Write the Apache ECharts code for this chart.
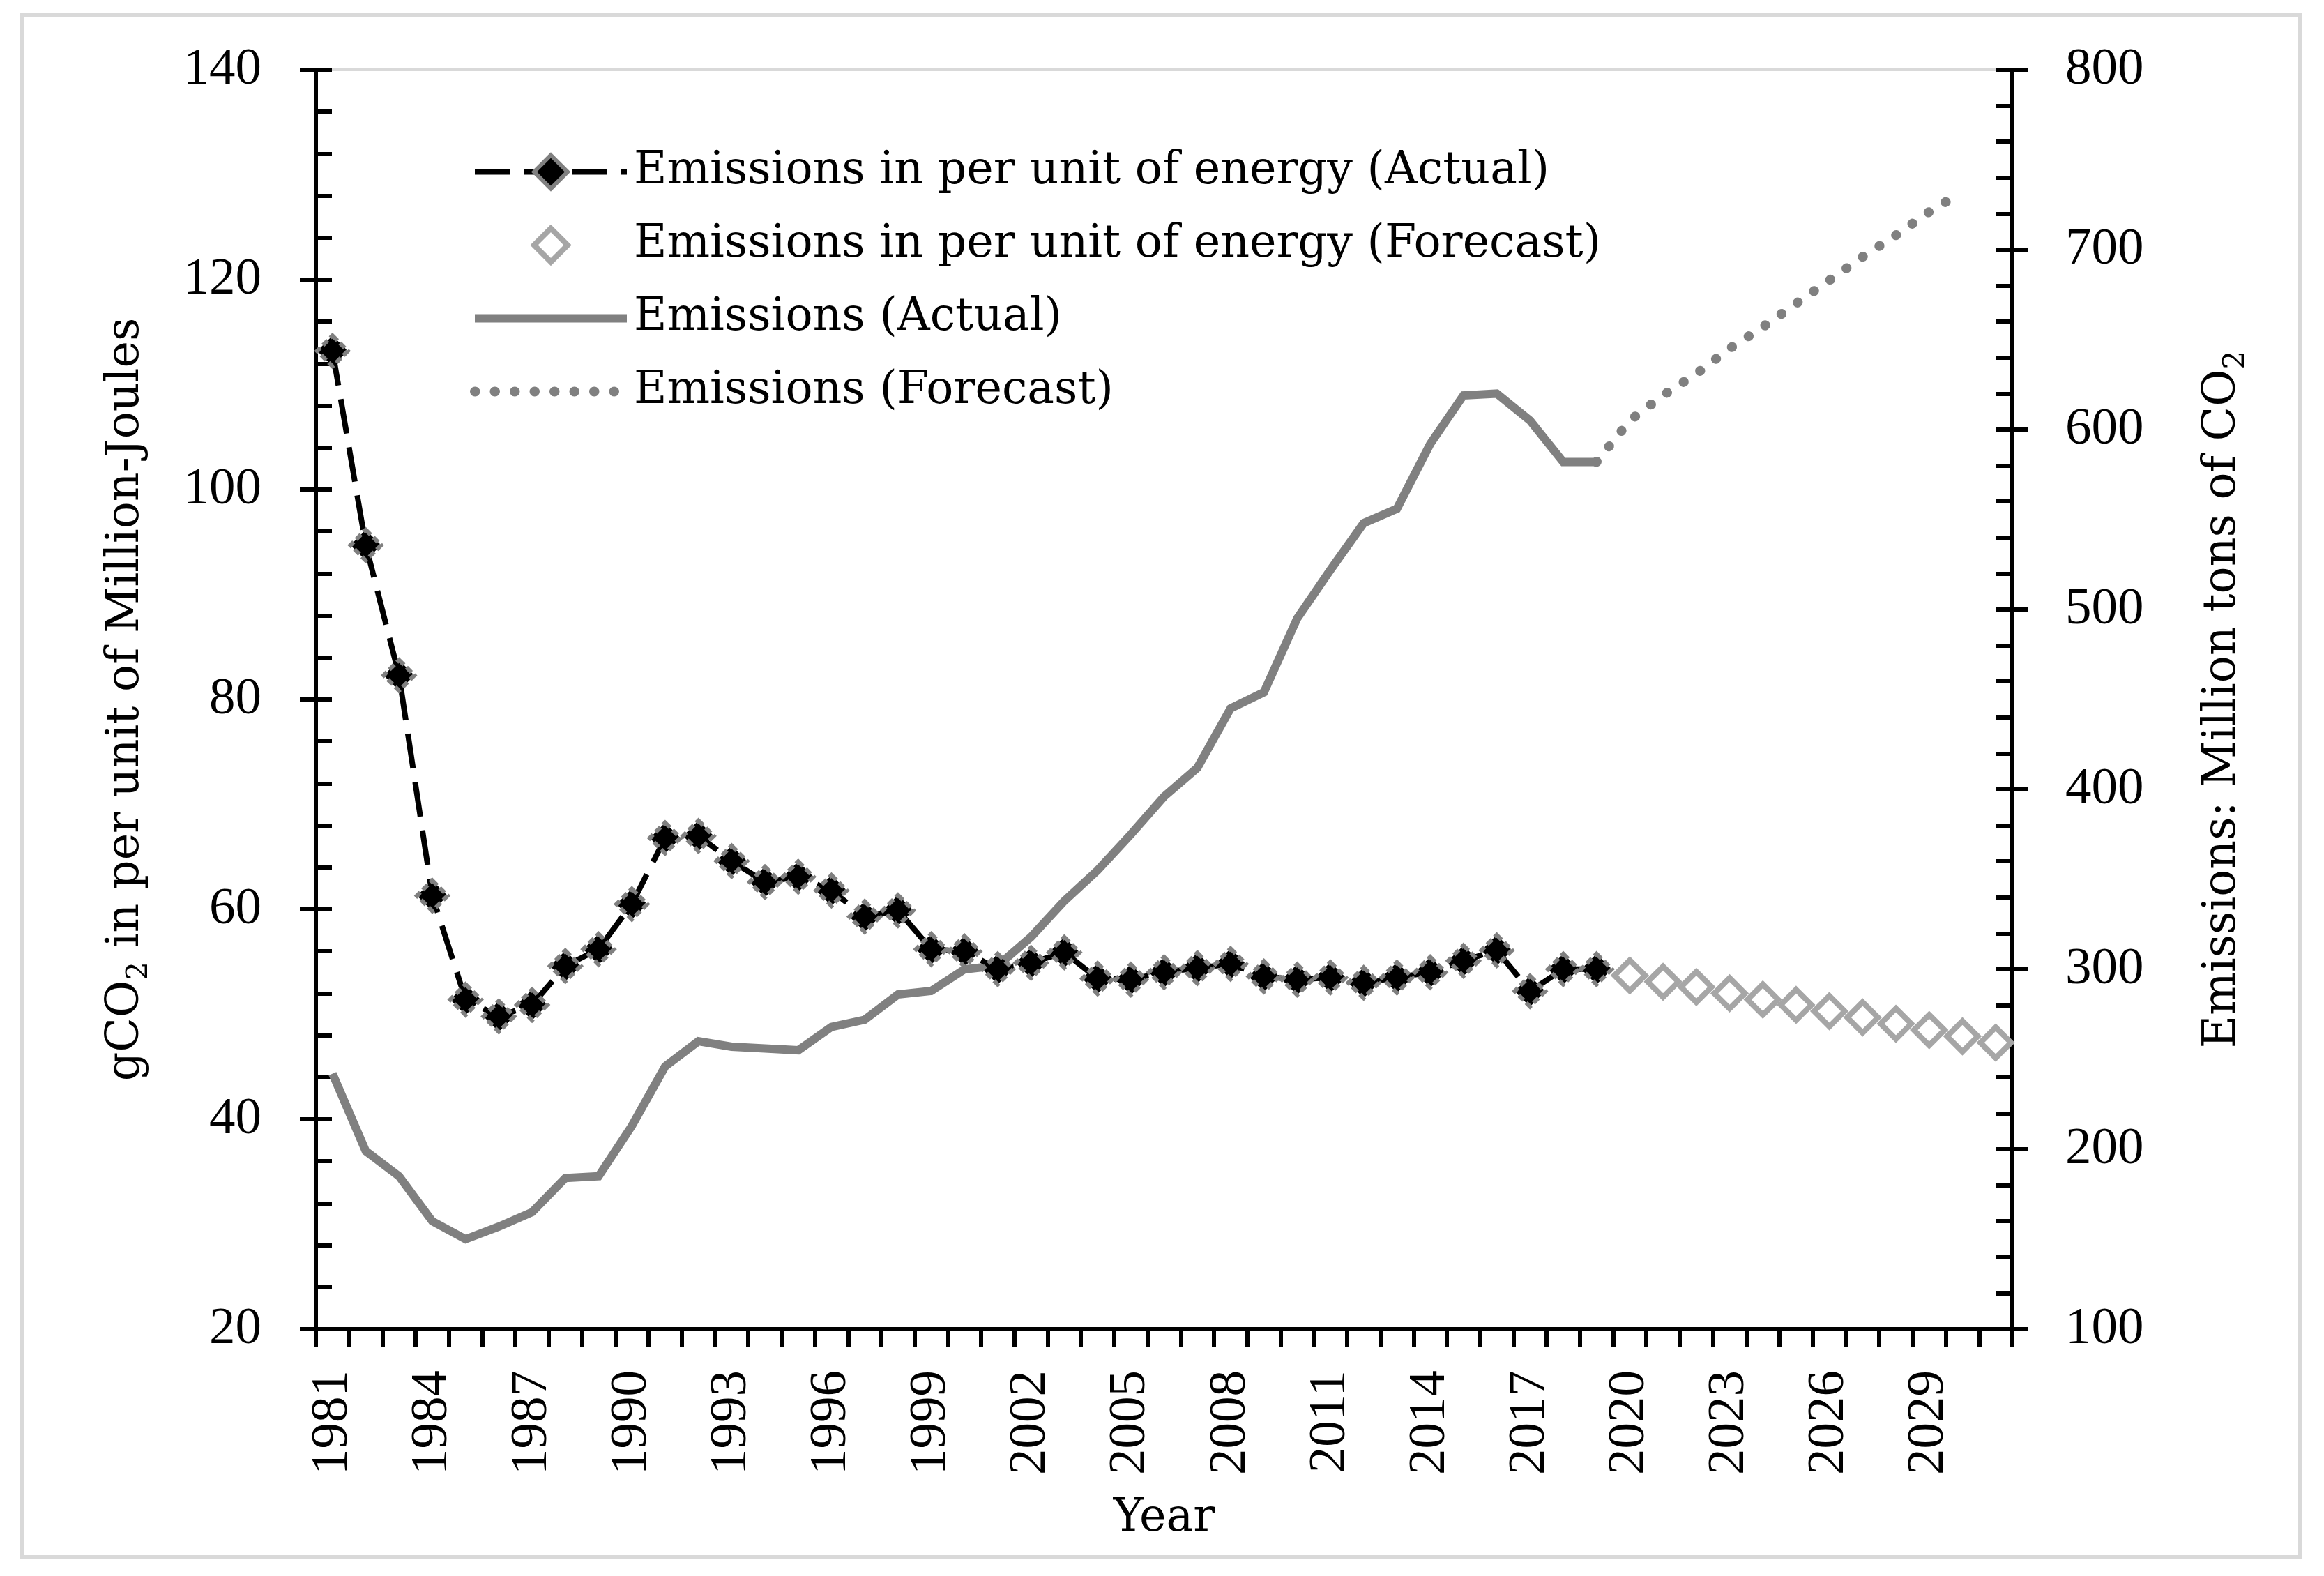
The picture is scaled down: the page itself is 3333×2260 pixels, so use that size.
<!DOCTYPE html>
<html>
<head>
<meta charset="utf-8">
<script src="https://cdn.jsdelivr.net/npm/echarts@6/dist/echarts.min.js"></script>
<style>
html,body{margin:0;padding:0;background:#ffffff;}
#c{width:3333px;height:2260px;}
</style>
</head>
<body>
<div id="c"></div>
<script>
// ---------- data ----------
const years = ['1981','1982','1983','1984','1985','1986','1987','1988','1989','1990',
  '1991','1992','1993','1994','1995','1996','1997','1998','1999','2000',
  '2001','2002','2003','2004','2005','2006','2007','2008','2009','2010',
  '2011','2012','2013','2014','2015','2016','2017','2018','2019','2020',
  '2021','2022','2023','2024','2025','2026','2027','2028','2029','2030','2031'];

// gCO2 per MJ, actual 1981-2019
const intensityActual = [113.2, 94.7, 82.3, 61.3, 51.4, 49.8, 50.9, 54.6, 56.2, 60.5,
  66.8, 67.0, 64.6, 62.6, 63.1, 61.8, 59.3, 59.9, 56.2, 56.0,
  54.3, 54.9, 55.9, 53.4, 53.3, 54.0, 54.4, 54.8, 53.6, 53.3,
  53.5, 53.0, 53.5, 54.0, 55.1, 56.1, 52.2, 54.3, 54.3];
// gCO2 per MJ, forecast 2020-2031
const intensityForecast = [53.7, 53.1, 52.6, 52.0, 51.4, 50.9, 50.3, 49.7, 49.1, 48.5, 47.9, 47.3];

// Million tons CO2, actual 1981-2019
const emissionsActual = [242, 199, 185, 160, 150, 157, 165, 184, 185, 213,
  246, 260, 257, 256, 255, 268, 272, 286, 288, 300,
  302, 318, 338, 355, 375, 396, 412, 445, 454, 495,
  522, 548, 556, 592, 619, 620, 605, 582, 582];
// Million tons CO2, forecast 2020-2030
const emissionsForecast = [605, 619, 631, 645, 657, 670, 683, 696, 708, 721, 732];

const seriesNames = [
  'Emissions in per unit of energy (Actual)',
  'Emissions in per unit of energy (Forecast)',
  'Emissions (Actual)',
  'Emissions (Forecast)'
];

// ---------- build aligned series ----------
const N = years.length;
const nulls = n => Array.from({length: n}, () => null);
const intActData = intensityActual.concat(nulls(N - intensityActual.length));
const intFcData = nulls(intensityActual.length).concat(intensityForecast);
const emActData = emissionsActual.concat(nulls(N - emissionsActual.length));
const emFcBase = nulls(emissionsActual.length - 1)
  .concat([emissionsActual[emissionsActual.length - 1]])
  .concat(emissionsForecast);
const emFcData = emFcBase.concat(nulls(N - emFcBase.length));

const SERIF = 'DejaVu Serif';
const NUMF = 'Liberation Serif';
const black = '#000000';

const subRich = {
  sub: { fontFamily: SERIF, fontSize: 42, lineHeight: 44, verticalAlign: 'bottom', color: black }
};

const chart = echarts.init(document.getElementById('c'), null, {renderer: 'canvas', width: 3333, height: 2260});

const option = {
  backgroundColor: '#ffffff',
  animation: false,
  graphic: [{
    type: 'rect', z: -10, silent: true,
    shape: {x: 31, y: 22, width: 3267, height: 2211},
    style: {fill: 'none', stroke: '#d9d9d9', lineWidth: 6}
  }],
  grid: {left: 453, right: 447, top: 100, bottom: 354, containLabel: false, outerBoundsMode: 'none'},
  legend: {
    show: true,
    orient: 'vertical',
    left: 669,
    top: 209,
    itemWidth: 218,
    itemHeight: 60,
    itemGap: 40,
    selectedMode: false,
    lineStyle: {width: 'inherit'},
    itemStyle: {borderWidth: 'inherit'},
    textStyle: {fontFamily: SERIF, fontSize: 65, color: black, lineHeight: 60, padding: [0, 0, 0, 5]},
    data: seriesNames
  },
  xAxis: [{
    type: 'category',
    data: years,
    position: 'bottom',
    boundaryGap: true,
    axisLine: {show: true, lineStyle: {color: black, width: 6}},
    axisTick: {show: true, interval: 0, length: 26, lineStyle: {color: black, width: 6}},
    axisLabel: {interval: 2, rotate: 90, fontFamily: NUMF, fontSize: 75, color: black, margin: 59},
    splitLine: {show: false},
    name: 'Year',
    nameLocation: 'middle',
    nameGap: 240,
    nameTextStyle: {fontFamily: SERIF, fontSize: 65, color: black}
  }, {
    type: 'category',
    data: years,
    position: 'top',
    boundaryGap: true,
    z: 0,
    axisLine: {show: true, lineStyle: {color: '#d9d9d9', width: 4}},
    axisTick: {show: false},
    axisLabel: {show: false},
    splitLine: {show: false}
  }],
  yAxis: [{
    type: 'value',
    position: 'left',
    min: 20, max: 140, interval: 20,
    name: 'gCO{sub|2} in per unit of Million-Joules',
    nameLocation: 'middle',
    nameRotate: 90,
    nameGap: 232,
    nameTextStyle: {fontFamily: SERIF, fontSize: 65, color: black, lineHeight: 80, rich: subRich},
    axisLine: {show: true, lineStyle: {color: black, width: 6}},
    axisTick: {show: true, inside: true, length: 23, lineStyle: {color: black, width: 6}},
    minorTick: {show: true, splitNumber: 5, length: 23, lineStyle: {color: black, width: 6}},
    axisLabel: {fontFamily: NUMF, fontSize: 75, color: black, margin: 78},
    splitLine: {show: false}
  }, {
    type: 'value',
    position: 'left',
    min: 20, max: 140, interval: 20,
    axisLine: {show: false},
    axisTick: {show: true, inside: false, length: 23, lineStyle: {color: black, width: 6}},
    axisLabel: {show: false},
    splitLine: {show: false}
  }, {
    type: 'value',
    position: 'right',
    min: 100, max: 800, interval: 100,
    name: 'Emissions: Million tons of CO{sub|2}',
    nameLocation: 'middle',
    nameRotate: 90,
    nameGap: 262,
    nameTextStyle: {fontFamily: SERIF, fontSize: 65, color: black, lineHeight: 80, rich: subRich},
    axisLine: {show: true, lineStyle: {color: black, width: 6}},
    axisTick: {show: true, inside: true, length: 23, lineStyle: {color: black, width: 6}},
    minorTick: {show: true, splitNumber: 5, length: 23, lineStyle: {color: black, width: 6}},
    axisLabel: {fontFamily: NUMF, fontSize: 75, color: black, margin: 76},
    splitLine: {show: false}
  }, {
    type: 'value',
    position: 'right',
    min: 100, max: 800, interval: 100,
    axisLine: {show: false},
    axisTick: {show: true, inside: false, length: 23, lineStyle: {color: black, width: 6}},
    axisLabel: {show: false},
    splitLine: {show: false}
  }],
  series: [{
    name: seriesNames[2],
    type: 'line',
    xAxisIndex: 0,
    yAxisIndex: 2,
    data: emActData,
    symbol: 'none',
    z: 2,
    lineStyle: {color: '#808080', width: 12, join: 'miter'},
    itemStyle: {color: 'rgba(128,128,128,0)', opacity: 0}
  }, {
    name: seriesNames[3],
    type: 'line',
    xAxisIndex: 0,
    yAxisIndex: 2,
    data: emFcData,
    symbol: 'none',
    z: 2,
    lineStyle: {color: '#808080', width: 14, type: [0.5, 28], cap: 'round'},
    itemStyle: {color: 'rgba(128,128,128,0)', opacity: 0}
  }, {
    name: seriesNames[0],
    type: 'line',
    xAxisIndex: 0,
    yAxisIndex: 0,
    data: intActData,
    symbol: 'diamond',
    symbolSize: 44,
    showSymbol: true,
    showAllSymbol: true,
    z: 3,
    lineStyle: {color: black, width: 8, type: [50, 20]},
    itemStyle: {color: black, borderColor: '#808080', borderWidth: 6, borderType: [10, 5]}
  }, {
    name: seriesNames[1],
    type: 'line',
    xAxisIndex: 0,
    yAxisIndex: 0,
    data: intFcData,
    symbol: 'diamond',
    symbolSize: 44,
    showSymbol: true,
    showAllSymbol: true,
    z: 3,
    lineStyle: {color: 'rgba(0,0,0,0)', width: 0},
    itemStyle: {color: '#ffffff', borderColor: '#a6a6a6', borderWidth: 8}
  }]
};

chart.setOption(option);
</script>
</body>
</html>
